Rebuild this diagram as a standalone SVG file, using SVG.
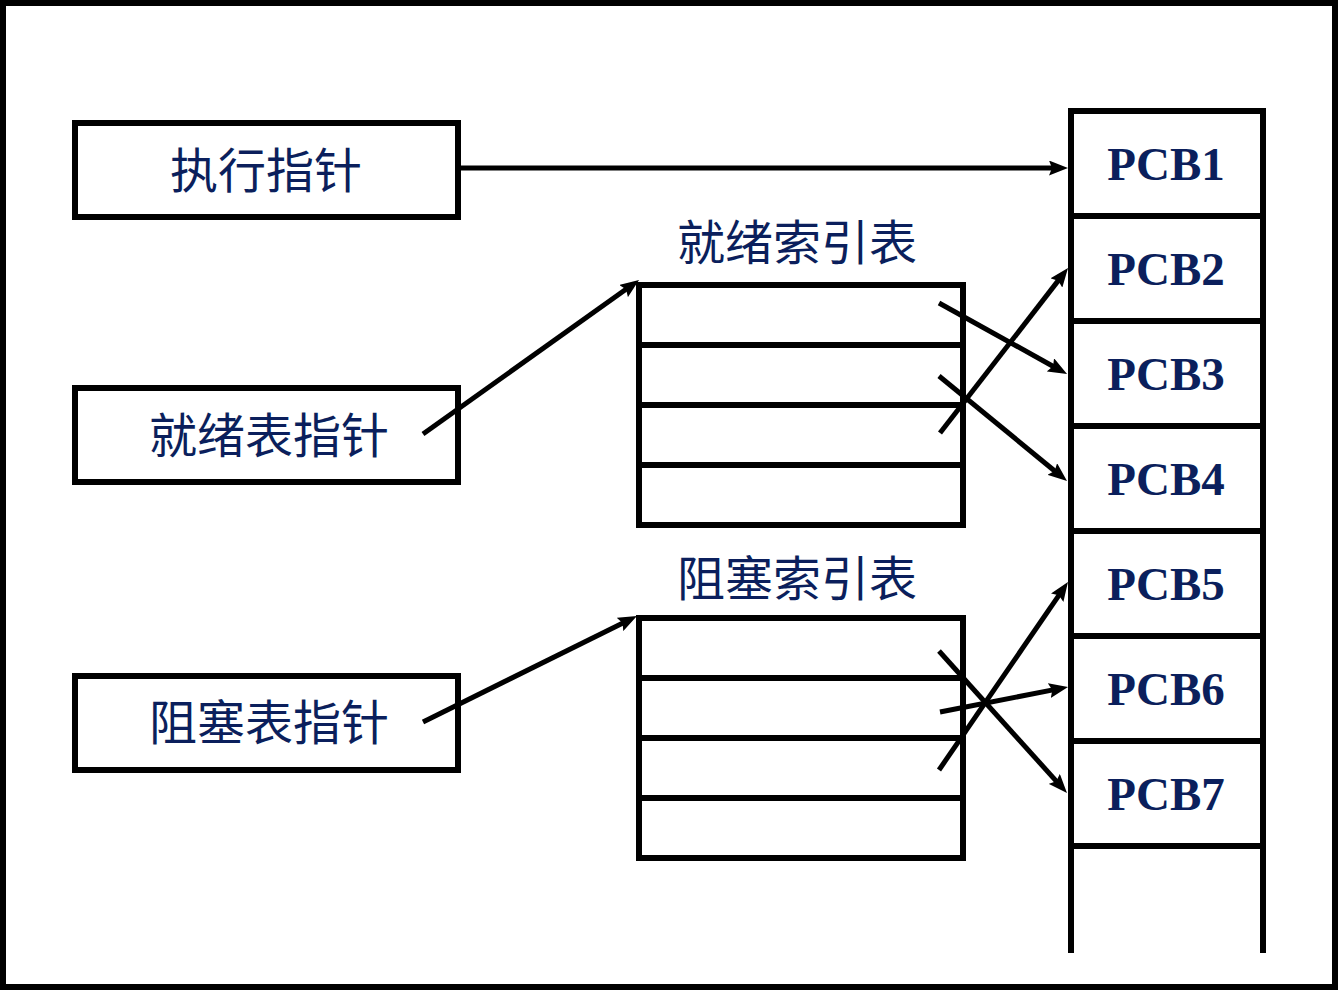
<svg xmlns="http://www.w3.org/2000/svg" width="1338" height="990" viewBox="0 0 1338 990">
<defs>
<style>
.box{fill:none;stroke:#000;stroke-width:6}
.ln{stroke:#000;stroke-width:6;fill:none}
.cn{font-family:"Noto Sans CJK SC","Noto Sans CJK JP",sans-serif;font-size:48px;fill:#0b1f5c;text-anchor:middle}
.pcb{font-family:"Liberation Serif","Times New Roman",serif;font-size:47px;font-weight:bold;fill:#0b1f5c;text-anchor:middle}
.arr{stroke:#000;stroke-width:5;fill:none;marker-end:url(#ah)}
</style>
<marker id="ah" viewBox="0 0 19 15" refX="9" refY="7.5" markerWidth="19" markerHeight="15" markerUnits="userSpaceOnUse" orient="auto">
<path d="M0,0 L19,7.5 L0,15 L3,7.5 z" fill="#000"/>
</marker>
</defs>
<rect x="0" y="0" width="1338" height="990" fill="#fff"/>
<rect x="3" y="3" width="1332" height="984" class="box"/>

<g id="exec-ptr">
<rect x="75" y="123" width="383" height="94" class="box"/>
<text x="266" y="188" class="cn">执行指针</text>
</g>
<g id="ready-ptr">
<rect x="75" y="388" width="383" height="94" class="box"/>
<text x="269" y="453" class="cn">就绪表指针</text>
</g>
<g id="block-ptr">
<rect x="75" y="676" width="383" height="94" class="box"/>
<text x="269" y="740" class="cn">阻塞表指针</text>
</g>

<g id="ready-index">
<text x="797" y="260" class="cn">就绪索引表</text>
<rect x="639" y="285" width="324" height="240" class="box"/>
<line x1="639" y1="345" x2="963" y2="345" class="ln"/>
<line x1="639" y1="405" x2="963" y2="405" class="ln"/>
<line x1="639" y1="465" x2="963" y2="465" class="ln"/>
</g>
<g id="block-index">
<text x="797" y="596" class="cn">阻塞索引表</text>
<rect x="639" y="618" width="324" height="240" class="box"/>
<line x1="639" y1="678" x2="963" y2="678" class="ln"/>
<line x1="639" y1="738" x2="963" y2="738" class="ln"/>
<line x1="639" y1="798" x2="963" y2="798" class="ln"/>
</g>

<g id="pcb-table">
<path d="M1071,953 V111 H1263 V953" class="ln"/>
<line x1="1071" y1="216" x2="1263" y2="216" class="ln"/>
<line x1="1071" y1="321" x2="1263" y2="321" class="ln"/>
<line x1="1071" y1="426" x2="1263" y2="426" class="ln"/>
<line x1="1071" y1="531" x2="1263" y2="531" class="ln"/>
<line x1="1071" y1="636" x2="1263" y2="636" class="ln"/>
<line x1="1071" y1="741" x2="1263" y2="741" class="ln"/>
<line x1="1071" y1="846" x2="1263" y2="846" class="ln"/>
</g>
<g id="pcb1"><text x="1166" y="180" class="pcb">PCB1</text></g>
<g id="pcb2"><text x="1166" y="285" class="pcb">PCB2</text></g>
<g id="pcb3"><text x="1166" y="390" class="pcb">PCB3</text></g>
<g id="pcb4"><text x="1166" y="495" class="pcb">PCB4</text></g>
<g id="pcb5"><text x="1166" y="600" class="pcb">PCB5</text></g>
<g id="pcb6"><text x="1166" y="705" class="pcb">PCB6</text></g>
<g id="pcb7"><text x="1166" y="810" class="pcb">PCB7</text></g>

<g id="connectors">
<line x1="461" y1="168" x2="1058" y2="168" class="arr"/>
<line x1="423" y1="434" x2="630.9" y2="285.8" class="arr"/>
<line x1="939" y1="303" x2="1058.3" y2="369.2" class="arr"/>
<line x1="939" y1="376" x2="1059.3" y2="474.7" class="arr"/>
<line x1="940" y1="433" x2="1061.9" y2="275.9" class="arr"/>
<line x1="423" y1="722" x2="628.0" y2="620.4" class="arr"/>
<line x1="939" y1="651" x2="1060.3" y2="785.6" class="arr"/>
<line x1="940" y1="712" x2="1058.2" y2="688.9" class="arr"/>
<line x1="939" y1="770" x2="1062.3" y2="590.3" class="arr"/>
</g>
</svg>
